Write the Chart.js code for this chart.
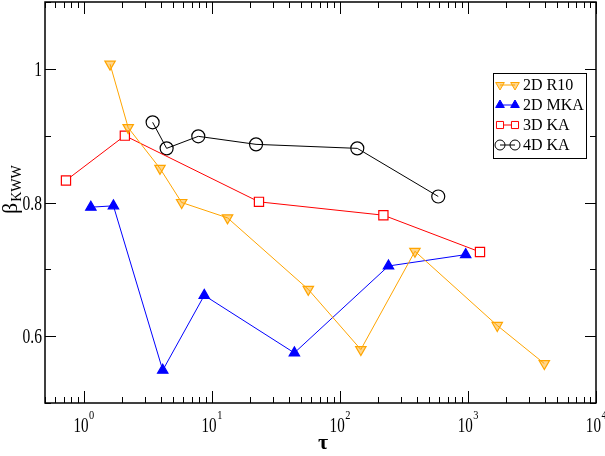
<!DOCTYPE html>
<html>
<head>
<meta charset="utf-8">
<script src="https://cdn.jsdelivr.net/npm/chart.js@4/dist/chart.umd.min.js"></script>
<style>
  html, body { margin: 0; padding: 0; background: #fff; }
  #wrap { width: 605px; height: 456px; position: relative; }
</style>
</head>
<body>
<div id="wrap"><canvas id="chart"></canvas></div>
<script>
// values
const r10Tau = [1.61, 2.23, 3.95, 5.83, 13.3, 56.8, 146, 386, 1695, 3950];
const r10Beta = [1.007, 0.912, 0.851, 0.800, 0.777, 0.670, 0.580, 0.727, 0.616, 0.559];
const mkaTau = [1.14, 1.71, 4.15, 8.75, 44.2, 240, 961];
const mkaBeta = [0.793, 0.795, 0.549, 0.661, 0.575, 0.705, 0.722];
const ka3Tau = [0.729, 2.10, 23.4, 219, 1243];
const ka3Beta = [0.833, 0.900, 0.801, 0.781, 0.726];
const ka4Tau = [3.46, 4.45, 7.86, 22.2, 137, 587];
const ka4Beta = [0.920, 0.881, 0.899, 0.887, 0.881, 0.809];

const seriesNames = ['2D R10', '2D MKA', '3D KA', '4D KA'];
const xMajorTicks = [1, 10, 100, 1000, 10000];
const xTickExp = ['0', '1', '2', '3', '4'];
const yTicks = [0.5, 0.6, 0.7, 0.8, 0.9, 1.0, 1.1];
const yTickLabels = ['', '0.6', '', '0.8', '', '1', ''];

const toPoints = (xs, ys) => xs.map((v, i) => ({ x: v, y: ys[i] }));

const styles = [
    { color: '#ffa500', pointStyle: 'triangle', rotation: 180, bg: 'rgba(255,165,0,0.45)', radius: 6 },
    { color: '#0000ff', pointStyle: 'triangle', rotation: 0, bg: '#0000ff', radius: 6 },
    { color: '#ff0000', pointStyle: 'rect', rotation: 0, bg: '#ffffff', radius: 6.5 },
    { color: '#000000', pointStyle: 'circle', rotation: 0, bg: 'rgba(0,0,0,0)', radius: 6.5 }
];

const allData = [
    toPoints(r10Tau, r10Beta),
    toPoints(mkaTau, mkaBeta),
    toPoints(ka3Tau, ka3Beta),
    toPoints(ka4Tau, ka4Beta)
];

// draw condensed serif text like the original tick labels
function squeezeText(ctx, text, x, y, size, align, sx) {
    ctx.save();
    ctx.font = size + 'px "Liberation Serif", serif';
    ctx.textBaseline = 'alphabetic';
    const w = ctx.measureText(text).width * sx;
    let left = x;
    if (align === 'right') left = x - w;
    if (align === 'center') left = x - w / 2;
    ctx.translate(left, y);
    ctx.scale(sx, 1);
    ctx.textAlign = 'left';
    ctx.fillText(text, 0, 0);
    ctx.restore();
    return w;
}

const axisDecor = {
    id: 'axisDecor',
    afterDraw(chart) {
        const { ctx, chartArea: a, scales: { x, y } } = chart;
        ctx.save();
        ctx.strokeStyle = '#000';
        ctx.fillStyle = '#000';
        ctx.lineWidth = 1;

        // x ticks (log)
        for (let d = -1; d <= 4; d++) {
            for (let m = 1; m <= 9; m++) {
                const v = m * Math.pow(10, d);
                if (v < 0.5 || v > 10000) continue;
                const px = Math.round(x.getPixelForValue(v)) + 0.5;
                const len = m === 1 ? 12 : 6;
                ctx.beginPath();
                ctx.moveTo(px, a.bottom); ctx.lineTo(px, a.bottom - len);
                ctx.moveTo(px, a.top); ctx.lineTo(px, a.top + len);
                ctx.stroke();
            }
        }
        // y ticks
        yTicks.forEach((v, i) => {
            const py = Math.round(y.getPixelForValue(v)) + 0.5;
            const len = yTickLabels[i] ? 11 : 6;
            ctx.beginPath();
            ctx.moveTo(a.left, py); ctx.lineTo(a.left + len, py);
            ctx.moveTo(a.right, py); ctx.lineTo(a.right - len, py);
            ctx.stroke();
        });

        // frame
        ctx.lineWidth = 1.5;
        ctx.strokeRect(a.left, a.top, a.right - a.left, a.bottom - a.top);

        // x tick labels 10^n
        xMajorTicks.forEach((v, i) => {
            const px = x.getPixelForValue(v);
            ctx.font = '21px "Liberation Serif", serif';
            const wBase = ctx.measureText('10').width * 0.72;
            ctx.font = '13px "Liberation Serif", serif';
            const wExp = ctx.measureText(xTickExp[i]).width * 0.8;
            const left = px - (wBase + wExp) / 2;
            squeezeText(ctx, '10', left, 432, 21, 'left', 0.72);
            squeezeText(ctx, xTickExp[i], left + wBase + 0.5, 419, 13, 'left', 0.8);
        });

        // y tick labels
        yTicks.forEach((v, i) => {
            if (!yTickLabels[i]) return;
            const py = y.getPixelForValue(v);
            squeezeText(ctx, yTickLabels[i], 42, py + 7, 21, 'right', 0.74);
        });

        // x title
        ctx.font = 'bold 22px "Liberation Serif", serif';
        ctx.textAlign = 'center';
        ctx.textBaseline = 'alphabetic';
        ctx.fillText('τ', 323, 449);

        // y title beta_KWW
        ctx.save();
        ctx.translate(17, 214);
        ctx.rotate(-Math.PI / 2);
        ctx.textAlign = 'left';
        ctx.font = '22px "Liberation Serif", serif';
        ctx.fillText('β', 0, 0);
        const bw = ctx.measureText('β').width;
        ctx.font = '14px "Liberation Serif", serif';
        ctx.fillText('KWW', bw + 1, 4);
        ctx.restore();

        // legend
        const lx = 493, ly = 73, lw = 93, lh = 85;
        ctx.lineWidth = 1;
        ctx.strokeStyle = '#000';
        ctx.strokeRect(lx + 0.5, ly + 0.5, lw, lh);
        seriesNames.forEach((name, i) => {
            const s = styles[i];
            const cy = 85 + i * 20;
            ctx.strokeStyle = s.color;
            ctx.lineWidth = 1;
            ctx.beginPath();
            ctx.moveTo(500, cy); ctx.lineTo(515, cy);
            ctx.stroke();
            [500, 515].forEach(cx => {
                ctx.fillStyle = s.bg;
                ctx.strokeStyle = s.color;
                Chart.helpers.drawPoint(ctx, {
                    pointStyle: s.pointStyle, radius: 5, rotation: s.rotation, borderWidth: 1
                }, cx, cy);
            });
            ctx.fillStyle = '#000';
            ctx.font = '16px "Liberation Serif", serif';
            ctx.textAlign = 'left';
            ctx.textBaseline = 'middle';
            ctx.fillText(name, 523, cy + 1);
        });
        ctx.restore();
    }
};

new Chart(document.getElementById('chart'), {
    type: 'scatter',
    data: {
        datasets: allData.map((pts, i) => ({
            label: seriesNames[i],
            data: pts,
            showLine: true,
            borderColor: styles[i].color,
            borderWidth: 1,
            backgroundColor: styles[i].bg,
            pointStyle: styles[i].pointStyle,
            rotation: styles[i].rotation,
            pointRadius: styles[i].radius,
            pointBorderWidth: 1.2,
            pointBorderColor: styles[i].color,
            pointBackgroundColor: styles[i].bg,
            clip: false
        }))
    },
    options: {
        responsive: true,
        maintainAspectRatio: false,
        animation: false,
        layout: { autoPadding: false, padding: { left: 45, top: 2, right: 9, bottom: 53 } },
        plugins: { legend: { display: false }, tooltip: { enabled: false } },
        scales: {
            x: { type: 'logarithmic', min: 0.5, max: 10000, display: false },
            y: { type: 'linear', min: 0.5, max: 1.1, display: false }
        }
    },
    plugins: [axisDecor]
});
</script>
</body>
</html>
